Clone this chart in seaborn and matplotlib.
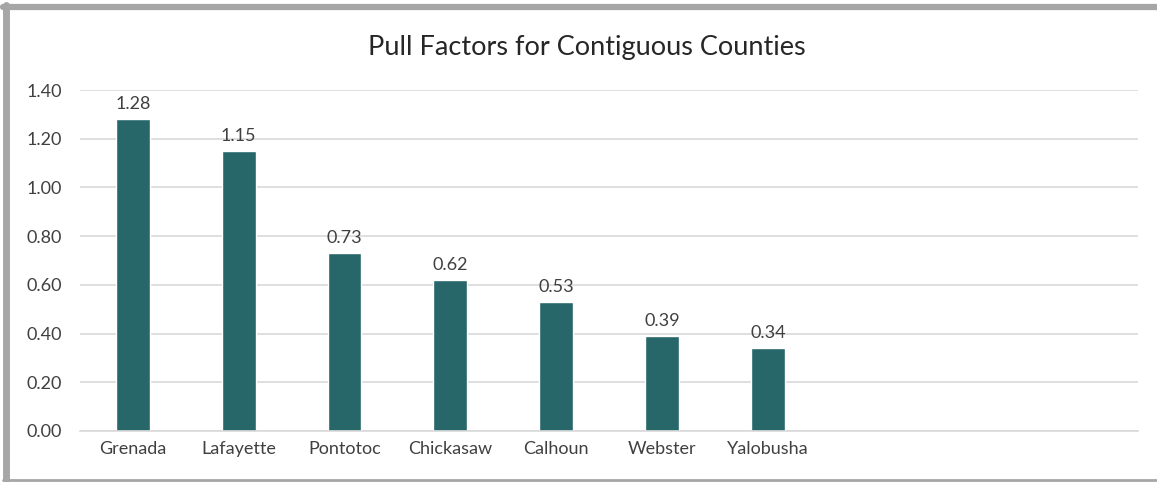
import matplotlib
matplotlib.use("Agg")
import matplotlib.pyplot as plt
import seaborn as sns
import pandas as pd
from matplotlib.lines import Line2D

counties = ['Grenada', 'Lafayette', 'Pontotoc', 'Chickasaw', 'Calhoun', 'Webster', 'Yalobusha']
pull_factors = [1.28, 1.15, 0.73, 0.62, 0.53, 0.39, 0.34]
y_ticks = [0.0, 0.2, 0.4, 0.6, 0.8, 1.0, 1.2, 1.4]

df = pd.DataFrame({'County': counties, 'Pull Factor': pull_factors})

sns.set_style("white")
plt.rcParams['font.family'] = ['Lato', 'DejaVu Sans']

fig = plt.figure(figsize=(11.57, 4.82), dpi=100)
ax = fig.add_axes([0.069, 0.106, 0.915, 0.707])

sns.barplot(x='County', y='Pull Factor', data=df, color='#276769',
            width=0.32, saturation=1, ax=ax)

# chart leaves room for 10 slots, only 7 used
ax.set_xlim(-0.5, 9.5)
ax.set_ylim(0, 1.4)
ax.set_yticks(y_ticks)
ax.set_yticklabels([f'{v:.2f}' for v in y_ticks], fontsize=13, color='#404040')
ax.tick_params(axis='x', labelsize=13, colors='#404040', length=0, pad=7)
ax.tick_params(axis='y', length=0, pad=13)
ax.grid(axis='y', color='#d9d9d9', linewidth=1.2)
ax.set_axisbelow(True)
for s in ['top', 'right', 'left']:
    ax.spines[s].set_visible(False)
ax.spines['bottom'].set_color('#d9d9d9')
ax.spines['bottom'].set_linewidth(1.2)
ax.set_xlabel('')
ax.set_ylabel('')

ax.bar_label(ax.containers[0], fmt='%.2f', padding=5, fontsize=13, color='#404040')

fig.text(0.507, 0.902, 'Pull Factors for Contiguous Counties', ha='center', va='center',
         fontsize=19.5, color='#262626')

# grey frame: thick top/left, thin bottom, none on the right
fig.add_artist(Line2D([0.0055, 0.0055], [0.003, 0.99], transform=fig.transFigure,
                      color='#a6a6a6', linewidth=5))
fig.add_artist(Line2D([0.003, 1.0], [0.986, 0.986], transform=fig.transFigure,
                      color='#a6a6a6', linewidth=4.5))
fig.add_artist(Line2D([0.003, 1.0], [0.004, 0.004], transform=fig.transFigure,
                      color='#a6a6a6', linewidth=2))

fig.savefig('out.png', dpi=100)
